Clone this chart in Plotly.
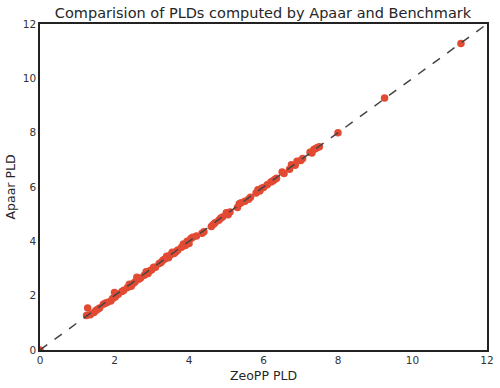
import plotly.graph_objects as go

zeopp_pld = [0.0, 1.25, 1.28, 1.35, 1.45, 1.5, 1.55, 1.6, 1.7, 1.75, 1.8, 1.9, 1.95, 2.0, 2.02,
             2.1, 2.2, 2.25, 2.35, 2.4, 2.45, 2.5, 2.55, 2.6, 2.65, 2.7, 2.8, 2.85, 2.9, 2.95,
             3.0, 3.05, 3.1, 3.2, 3.25, 3.3, 3.35, 3.4, 3.45, 3.5, 3.55, 3.6, 3.65, 3.7, 3.8,
             3.85, 3.9, 3.95, 4.0, 4.05, 4.1, 4.2, 4.35, 4.4, 4.6, 4.65, 4.7, 4.8, 4.85, 4.9,
             5.0, 5.05, 5.1, 5.3, 5.35, 5.4, 5.5, 5.6, 5.65, 5.8, 5.85, 5.9, 5.95, 6.0, 6.1,
             6.2, 6.25, 6.3, 6.35, 6.5, 6.55, 6.7, 6.75, 6.85, 6.9, 7.0, 7.05, 7.25, 7.3, 7.35,
             7.4, 7.45, 7.5, 8.0, 9.25, 11.3]
apaar_pld = [0.0, 1.27, 1.55, 1.30, 1.38, 1.45, 1.50, 1.55, 1.68, 1.72, 1.75, 1.80, 1.90, 2.12, 1.95,
             2.05, 2.15, 2.20, 2.30, 2.42, 2.35, 2.45, 2.50, 2.68, 2.60, 2.65, 2.75, 2.88, 2.82, 2.92,
             2.95, 3.05, 3.05, 3.18, 3.22, 3.30, 3.35, 3.45, 3.40, 3.50, 3.60, 3.55, 3.62, 3.68, 3.78,
             3.90, 3.85, 4.00, 3.92, 4.10, 4.15, 4.20, 4.30, 4.35, 4.55, 4.62, 4.68, 4.78, 4.85, 4.90,
             5.05, 4.98, 5.08, 5.25, 5.38, 5.42, 5.48, 5.55, 5.62, 5.78, 5.90, 5.85, 5.95, 5.98, 6.08,
             6.18, 6.22, 6.28, 6.32, 6.55, 6.50, 6.65, 6.82, 6.80, 6.95, 6.98, 7.05, 7.28, 7.25, 7.38,
             7.42, 7.45, 7.48, 8.00, 9.28, 11.28]
diag = [0, 12]
tick_vals = [0, 2, 4, 6, 8, 10, 12]

fig = go.Figure()
fig.add_trace(go.Scatter(x=zeopp_pld, y=apaar_pld, mode="markers",
                         marker=dict(color="#E24A33", size=7.5, line=dict(width=0)),
                         showlegend=False, cliponaxis=True))
fig.add_trace(go.Scatter(x=diag, y=diag, mode="lines",
                         line=dict(color="#444444", width=1.5, dash="dash"),
                         showlegend=False))

axis_common = dict(range=[0, 12], tickvals=tick_vals, showgrid=False, zeroline=False,
                   showline=True, linecolor="#222222", linewidth=1.5, mirror=True,
                   automargin=False,
                   ticks="", tickfont=dict(family="DejaVu Sans", size=10.5, color="#333333"))
fig.update_layout(
    width=500, height=388,
    margin=dict(l=40, r=13, t=24, b=38, autoexpand=False),
    paper_bgcolor="white", plot_bgcolor="white",
    font=dict(family="DejaVu Sans", color="#262626"),
    title=dict(text="Comparision of PLDs computed by Apaar and Benchmark",
               x=0.526, xanchor="center", y=0.966, yref="container", yanchor="middle",
               font=dict(size=14.5, color="#262626")),
)
fig.update_xaxes(**axis_common, title=dict(text="ZeoPP PLD", font=dict(size=12.5), standoff=6))
fig.update_yaxes(**axis_common, title=dict(text="Apaar PLD", font=dict(size=12.5), standoff=4))

fig.write_html("out.html", config={"displayModeBar": False},
               post_script="document.body.style.margin='0px';")
